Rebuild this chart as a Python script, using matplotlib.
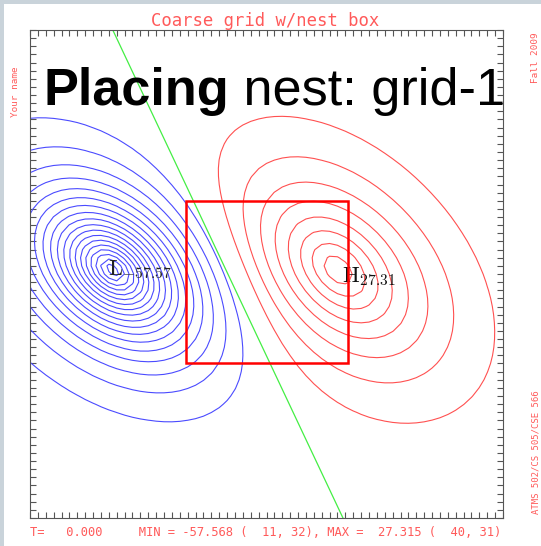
"""Coarse grid with the nest box drawn over the contoured field."""

import matplotlib

matplotlib.use("Agg")
import matplotlib.pyplot as plt  # noqa: E402
import numpy as np  # noqa: E402
from matplotlib.patches import Rectangle  # noqa: E402

# coarse grid indices (1-based, 61 x 61 points)
grid_i = np.arange(1, 62)
grid_j = np.arange(1, 62)

# the two elliptic bumps that make up the field: low first, then high
bump_amp = [-57.568, 27.315]
bump_i = [11.5, 40.0]
bump_j = [31.5, 31.5]
bump_len_major = [10.0, 12.3]
bump_len_minor = [6.5, 8.0]
bump_tilt = [-38.0, -42.0]
bump_power = 1.25

contour_step = 3.0

# where the extremes were found on the grid
min_ij = (11, 32)
max_ij = (40, 31)

# nest box corners and the green line, in grid units
nest_i = [20.8, 41.4]
nest_j = [20.0, 40.0]
line_i = [11.5, 40.7]
line_j = [61.0, 1.0]

status_text = "T=   0.000     MIN = -57.568 (  11, 32), MAX =  27.315 (  40, 31)"

W, H = 541, 546


def bump(X, Y, amp, xc, yc, l_maj, l_min, tilt):
    t = np.deg2rad(tilt)
    dx, dy = X - xc, Y - yc
    u = dx * np.cos(t) + dy * np.sin(t)
    v = -dx * np.sin(t) + dy * np.cos(t)
    q = (u / l_maj) ** 2 + (v / l_min) ** 2
    return amp * np.exp(-q ** (bump_power / 2))


def fx(px):
    return px / W


def fy(py):
    return 1 - py / H


def main():
    plt.rcParams["mathtext.fontset"] = "cm"
    mono = "DejaVu Sans Mono"
    label_red = "#ff5a5a"

    X, Y = np.meshgrid(grid_i, grid_j)
    Z = np.zeros_like(X, dtype=float)
    for k in range(len(bump_amp)):
        Z += bump(X, Y, bump_amp[k], bump_i[k], bump_j[k],
                  bump_len_major[k], bump_len_minor[k], bump_tilt[k])

    neg_levels = np.arange(-19, 0) * contour_step
    pos_levels = np.arange(1, 10) * contour_step

    fig = plt.figure(figsize=(W / 100, H / 100), dpi=100)
    ax = fig.add_axes([fx(30), fy(518), 473 / W, 488 / H])

    ax.contour(X, Y, Z, levels=neg_levels, colors="#4b4bff",
               linewidths=0.8, linestyles="solid")
    ax.contour(X, Y, Z, levels=pos_levels, colors="#ff5050",
               linewidths=0.8, linestyles="solid")

    ax.plot(line_i, line_j, color="#44ee44", linewidth=0.9)
    ax.add_patch(Rectangle((nest_i[0], nest_j[0]), nest_i[1] - nest_i[0],
                           nest_j[1] - nest_j[0], fill=False,
                           edgecolor="#ff0000", linewidth=1.8, zorder=5))

    # H / L markers next to the extremes
    ax.annotate(r"$\mathrm{L}_{-57.57}$", xy=min_ij,
                xytext=(-0.7, -6.5), textcoords="offset points",
                ha="left", va="baseline", fontsize=16, color="#222222")
    ax.annotate(r"$\mathrm{H}_{27.31}$", xy=max_ij,
                xytext=(3.3, -5.8), textcoords="offset points",
                ha="left", va="baseline", fontsize=16, color="#111111")

    ax.set_xlim(grid_i[0], grid_i[-1])
    ax.set_ylim(grid_j[0], grid_j[-1])
    ax.set_xticks(grid_i)
    ax.set_yticks(grid_j)
    ax.tick_params(direction="in", length=4.3, width=0.8, color="#555555",
                   top=True, right=True, labelbottom=False, labelleft=False)
    for sp in ax.spines.values():
        sp.set_color("#555555")
        sp.set_linewidth(0.8)

    # overlay heading, bold first word then the rest
    t1 = fig.text(fx(43), fy(105), "Placing", family="Liberation Sans",
                  fontweight="bold", fontsize=37.6, va="baseline", ha="left")
    ax.annotate(" nest: grid-1", xy=(1, 0), xycoords=t1,
                family="Liberation Sans", fontsize=37.6, va="bottom",
                ha="left", annotation_clip=False)

    fig.text(fx(265.5), fy(26), "Coarse grid w/nest box", family=mono,
             fontsize=12.4, color=label_red, ha="center", va="baseline")
    fig.text(fx(30), fy(536), status_text, family=mono, fontsize=8.75,
             color=label_red, ha="left", va="baseline")
    fig.text(fx(15), fy(92), "Your name", family=mono, fontsize=6.7,
             color=label_red, rotation=90, ha="center", va="center")
    fig.text(fx(535), fy(58), "Fall 2009", family=mono, fontsize=6.7,
             color=label_red, rotation=90, ha="center", va="center")
    fig.text(fx(536), fy(452), "ATMS 502/CS 505/CSE 566", family=mono,
             fontsize=6.5, color=label_red, rotation=90, ha="center",
             va="center")

    # grey strips along the top and left edges
    fig.patches.append(Rectangle((0, 0), fx(4), 1, transform=fig.transFigure,
                                 facecolor="#c9d3da", edgecolor="none"))
    fig.patches.append(Rectangle((0, fy(4)), 1, 4 / H, transform=fig.transFigure,
                                 facecolor="#c9d3da", edgecolor="none"))

    fig.savefig("out.png", dpi=100)


if __name__ == "__main__":
    main()
